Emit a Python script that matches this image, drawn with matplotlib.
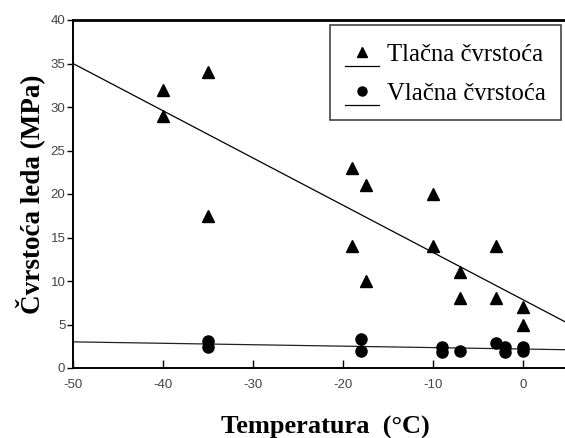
import numpy as np
import matplotlib
matplotlib.use("Agg")
import matplotlib.pyplot as plt
from matplotlib.lines import Line2D
from matplotlib.legend_handler import HandlerBase

plt.rcParams["axes.unicode_minus"] = False

# tlacna cvrstoca (trokuti)
tl_temp = [-40, -40, -35, -35, -19, -17.5, -10, -19, -10, -3, -7, -17.5, -7, -3, 0, 0]
tl_cvrst = [32, 29, 34, 17.5, 23, 21, 20, 14, 14, 14, 11, 10, 8, 8, 7, 5]

# vlacna cvrstoca (krugovi)
vl_temp = [-35, -35, -18, -18, -9, -9, -7, -3, -2, -2, 0, 0]
vl_cvrst = [3.1, 2.4, 3.3, 2.0, 2.4, 1.8, 2.0, 2.9, 2.4, 1.8, 2.4, 1.9]

# pravci (nagib, odsjecak) procitani sa slike
tl_fit = [-0.543, 7.85]
vl_fit = [-0.0165, 2.18]

x_ticks = [-50, -40, -30, -20, -10, 0]
y_ticks = [0, 5, 10, 15, 20, 25, 30, 35, 40]


class MarkerIznad(HandlerBase):
    # kratka linija ispod teksta i marker iznad nje, kao na originalu
    def create_artists(self, legend, orig_handle, xdescent, ydescent,
                       width, height, fontsize, trans):
        y0 = -0.2 * fontsize
        linija = Line2D([-xdescent, width - xdescent], [y0, y0], color="black", lw=0.9)
        mk = Line2D([width / 2 - xdescent], [y0 + 0.56 * fontsize], marker=orig_handle.get_marker(),
                    markersize=6.5, color="black", linestyle="none")
        linija.set_transform(trans)
        mk.set_transform(trans)
        return [linija, mk]


fig = plt.figure(figsize=(5.65, 4.38), dpi=100)
ax = fig.add_axes([73 / 565, 70 / 438, 495 / 565, 348 / 438])

xs = np.array([-50, 5])
ax.plot(xs, tl_fit[0] * xs + tl_fit[1], color="black", lw=0.9)
ax.plot(xs, vl_fit[0] * xs + vl_fit[1], color="#222222", lw=0.9)
h1, = ax.plot(tl_temp, tl_cvrst, "^", color="black", markersize=9, label="Tlačna čvrstoća")
h2, = ax.plot(vl_temp, vl_cvrst, "o", color="black", markersize=8, label="Vlačna čvrstoća")

ax.set_xlim(-50, 5)
ax.set_ylim(0, 40)
ax.set_xticks(x_ticks)
ax.set_yticks(y_ticks)
ax.tick_params(axis="x", direction="in", length=6, width=1, labelsize=9.5, labelcolor="#444444", pad=8)
ax.tick_params(axis="y", direction="out", length=4, width=1, labelsize=9.5, labelcolor="#444444", pad=1.5)
for t in ax.get_xticklabels() + ax.get_yticklabels():
    t.set_family("Liberation Sans")

for s in ["left", "bottom", "top", "right"]:
    ax.spines[s].set_linewidth(1.4)
ax.spines["top"].set_linewidth(2)

ax.set_xlabel("Temperatura  (°C)", family="Liberation Serif", fontweight="bold", fontsize=19, labelpad=18)
ax.xaxis.label.set_x(0.51)
ax.set_ylabel("Čvrstoća leda (MPa)", family="Liberation Serif", fontweight="bold", fontsize=19.5, labelpad=4)

leg = ax.legend(handles=[h1, h2], handler_map={h1: MarkerIznad(), h2: MarkerIznad()},
                loc="upper right", bbox_to_anchor=(0.985, 0.987), fancybox=False, framealpha=1,
                edgecolor="#444444", prop={"family": "Liberation Serif", "size": 17.8},
                handlelength=1.4, handleheight=1.3, handletextpad=0.3, borderpad=0.6,
                labelspacing=0.47, borderaxespad=0)
leg.get_frame().set_linewidth(1.2)

fig.savefig("out.png", dpi=100)
